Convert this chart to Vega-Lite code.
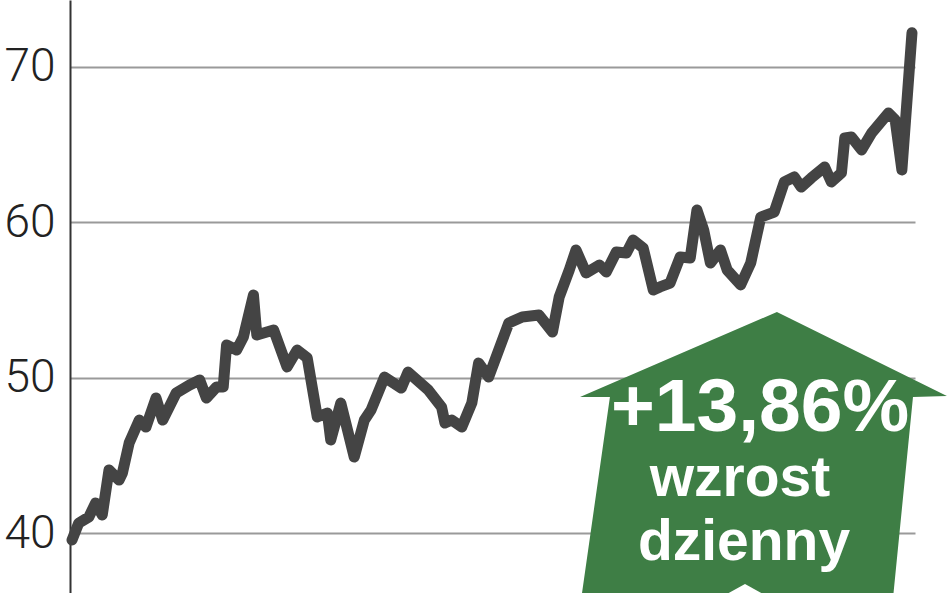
{
  "$schema": "https://vega.github.io/schema/vega-lite/v6.json",
  "width": 845,
  "height": 593,
  "autosize": {"type": "none"},
  "padding": {"left": 70, "top": 0, "right": 33, "bottom": 0},
  "background": "#ffffff",
  "config": {"view": {"stroke": null}},
  "datasets": {
    "price": [
      {"day": 0, "v": 39.55}, {"day": 2, "v": 40.64}, {"day": 5, "v": 41.03}, {"day": 7, "v": 41.93},
      {"day": 9, "v": 41.16}, {"day": 11, "v": 44.06}, {"day": 14, "v": 43.41}, {"day": 15, "v": 43.86},
      {"day": 17, "v": 45.79}, {"day": 20, "v": 47.27}, {"day": 22, "v": 46.82}, {"day": 25, "v": 48.69},
      {"day": 27, "v": 47.27}, {"day": 31, "v": 49.01}, {"day": 35, "v": 49.53}, {"day": 38, "v": 49.85},
      {"day": 40, "v": 48.69}, {"day": 43, "v": 49.40}, {"day": 45, "v": 49.40}, {"day": 46, "v": 52.10},
      {"day": 49, "v": 51.78}, {"day": 51, "v": 52.62}, {"day": 54, "v": 55.32}, {"day": 55, "v": 52.75},
      {"day": 60, "v": 53.07}, {"day": 64, "v": 50.69}, {"day": 67, "v": 51.78}, {"day": 70, "v": 51.27},
      {"day": 73, "v": 47.47}, {"day": 76, "v": 47.72}, {"day": 77, "v": 45.99}, {"day": 80, "v": 48.37},
      {"day": 84, "v": 44.89}, {"day": 87, "v": 47.27}, {"day": 89, "v": 47.92}, {"day": 93, "v": 50.04},
      {"day": 98, "v": 49.33}, {"day": 100, "v": 50.36}, {"day": 106, "v": 49.21}, {"day": 110, "v": 48.11},
      {"day": 111, "v": 47.08}, {"day": 113, "v": 47.27}, {"day": 116, "v": 46.82}, {"day": 119, "v": 48.37},
      {"day": 121, "v": 50.94}, {"day": 124, "v": 50.04}, {"day": 130, "v": 53.52}, {"day": 134, "v": 53.91},
      {"day": 139, "v": 54.03}, {"day": 143, "v": 52.94}, {"day": 145, "v": 55.19}, {"day": 148, "v": 56.93},
      {"day": 150, "v": 58.22}, {"day": 153, "v": 56.74}, {"day": 157, "v": 57.25}, {"day": 159, "v": 56.80},
      {"day": 162, "v": 58.09}, {"day": 165, "v": 58.03}, {"day": 167, "v": 58.86}, {"day": 170, "v": 58.35},
      {"day": 173, "v": 55.64}, {"day": 175, "v": 55.84}, {"day": 178, "v": 56.09}, {"day": 181, "v": 57.77},
      {"day": 184, "v": 57.70}, {"day": 186, "v": 60.79}, {"day": 188, "v": 59.51}, {"day": 190, "v": 57.38},
      {"day": 193, "v": 58.22}, {"day": 195, "v": 56.93}, {"day": 199, "v": 55.97}, {"day": 202, "v": 57.38},
      {"day": 205, "v": 60.34}, {"day": 209, "v": 60.66}, {"day": 212, "v": 62.60}, {"day": 215, "v": 62.92},
      {"day": 217, "v": 62.27}, {"day": 220, "v": 62.85}, {"day": 224, "v": 63.56}, {"day": 226, "v": 62.60},
      {"day": 229, "v": 63.18}, {"day": 230, "v": 65.43}, {"day": 232, "v": 65.49}, {"day": 235, "v": 64.66},
      {"day": 238, "v": 65.75}, {"day": 243, "v": 67.04}, {"day": 245, "v": 66.59}, {"day": 247, "v": 63.37},
      {"day": 250, "v": 72.2}
    ],
    "arrow": [
      {"i": 0, "day": 151.2, "v": 48.75},
      {"i": 1, "day": 209.8, "v": 54.23},
      {"i": 2, "day": 260.4, "v": 48.82},
      {"i": 3, "day": 250.3, "v": 48.75},
      {"i": 4, "day": 244.3, "v": 35.69},
      {"i": 5, "day": 151.5, "v": 35.69},
      {"i": 6, "day": 160.1, "v": 48.75}
    ],
    "notch": [
      {"i": 0, "day": 191.7, "v": 35.69},
      {"i": 1, "day": 200.3, "v": 36.72},
      {"i": 2, "day": 208.9, "v": 35.69}
    ],
    "labels": [
      {"day": 204.8, "v": 46.57, "t": "+13,86%", "s": "big"},
      {"day": 198.8, "v": 42.38, "t": "wzrost", "s": "small"},
      {"day": 200.0, "v": 38.26, "t": "dzienny", "s": "small"}
    ]
  },
  "encoding": {
    "x": {"field": "day", "type": "quantitative", "scale": {"domain": [-0.6, 250.9], "nice": false, "zero": false}, "axis": null},
    "y": {
      "field": "v", "type": "quantitative",
      "scale": {"domain": [36.14, 74.31], "nice": false, "zero": false},
      "axis": {
        "values": [40, 50, 60, 70], "title": null, "grid": true, "gridColor": "#9a9a9a", "gridWidth": 2,
        "domain": true, "domainColor": "#333333", "domainWidth": 2, "ticks": false, "tickSize": 0,
        "labelPadding": 15, "labelFont": "Roboto", "labelFontWeight": 300, "labelFontSize": 46,
        "labelColor": "#222222", "labelFlush": false, "labelOverlap": false
      }
    }
  },
  "layer": [
    {
      "data": {"name": "arrow"},
      "mark": {"type": "line", "interpolate": "linear-closed", "filled": true, "color": "#3e7e45", "strokeWidth": 0},
      "encoding": {"order": {"field": "i", "type": "quantitative"}}
    },
    {
      "data": {"name": "notch"},
      "mark": {"type": "line", "interpolate": "linear-closed", "filled": true, "color": "#ffffff", "strokeWidth": 0},
      "encoding": {"order": {"field": "i", "type": "quantitative"}}
    },
    {
      "data": {"name": "labels"},
      "transform": [{"filter": "datum.s === 'big'"}],
      "mark": {"type": "text", "font": "Liberation Sans", "fontWeight": "bold", "fontSize": 75, "color": "#ffffff", "align": "center", "baseline": "alphabetic"},
      "encoding": {"text": {"field": "t"}}
    },
    {
      "data": {"name": "labels"},
      "transform": [{"filter": "datum.s === 'small'"}],
      "mark": {"type": "text", "font": "Liberation Sans", "fontWeight": "bold", "fontSize": 57, "color": "#ffffff", "align": "center", "baseline": "alphabetic"},
      "encoding": {"text": {"field": "t"}}
    },
    {
      "data": {"name": "price"},
      "mark": {"type": "line", "color": "#444444", "strokeWidth": 11, "strokeCap": "round", "strokeJoin": "round"},
      "encoding": {}
    }
  ]
}
